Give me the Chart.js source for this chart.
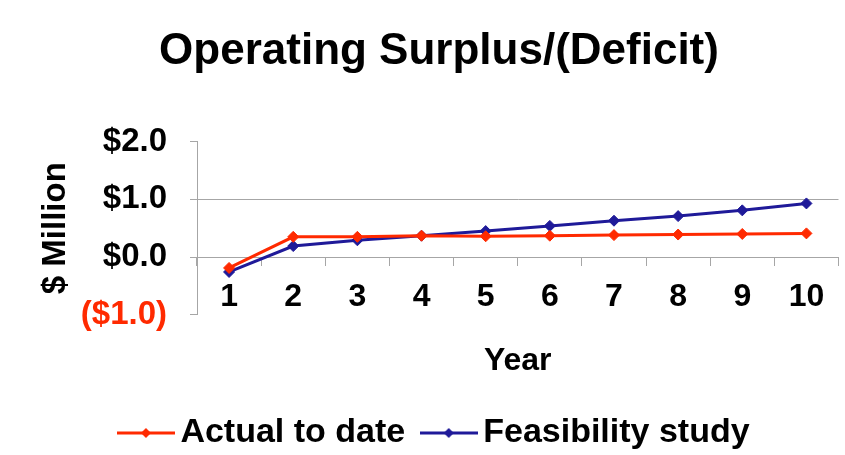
<!DOCTYPE html>
<html>
<head>
<meta charset="utf-8">
<script src="https://cdn.jsdelivr.net/npm/chart.js@4.4.1/dist/chart.umd.min.js"></script>
<style>
html, body { margin: 0; padding: 0; background: #fff; }
#wrap { width: 845px; height: 455px; }
</style>
</head>
<body>
<div id="wrap"><canvas id="surplusChart" width="845" height="455"></canvas></div>
<script>
// チャートのデータ
const years = ['1', '2', '3', '4', '5', '6', '7', '8', '9', '10'];
const actualToDate = [-0.19, 0.35, 0.35, 0.37, 0.36, 0.37, 0.38, 0.39, 0.40, 0.41];
const feasibilityStudy = [-0.26, 0.19, 0.29, 0.37, 0.45, 0.54, 0.63, 0.71, 0.81, 0.93];
const yTickValues = [-1, 0, 1, 2];
const yTickLabels = ['($1.0)', '$0.0', '$1.0', '$2.0'];

const RED = '#ff2a00';
const BLUE = '#1f1a99';
const GREY = '#a6a6a6';
const FONT = 'Liberation Sans, Arial, Helvetica, sans-serif';

Chart.defaults.font.family = FONT;
Chart.defaults.color = '#000';

// 凡例のマーカー（線＋ひし形）
function makeLegendMarker(color) {
    const c = document.createElement('canvas');
    c.width = 58;
    c.height = 14;
    const g = c.getContext('2d');
    g.strokeStyle = color;
    g.lineWidth = 3;
    g.beginPath();
    g.moveTo(0, 7);
    g.lineTo(58, 7);
    g.stroke();
    g.fillStyle = color;
    g.beginPath();
    g.moveTo(29, 2);
    g.lineTo(34, 7);
    g.lineTo(29, 12);
    g.lineTo(24, 7);
    g.closePath();
    g.fill();
    return c;
}
const markers = [makeLegendMarker(RED), makeLegendMarker(BLUE)];

const ctx = document.getElementById('surplusChart').getContext('2d');
const chart = new Chart(ctx, {
    type: 'line',
    data: {
        labels: years,
        datasets: [{
            label: 'Actual to date',
            data: actualToDate,
            borderColor: RED,
            backgroundColor: RED,
            borderWidth: 3,
            pointStyle: 'rectRot',
            pointRadius: 5.5,
            pointBorderWidth: 1,
            tension: 0
        }, {
            label: 'Feasibility study',
            data: feasibilityStudy,
            borderColor: BLUE,
            backgroundColor: BLUE,
            borderWidth: 3,
            pointStyle: 'rectRot',
            pointRadius: 5.5,
            pointBorderWidth: 1,
            tension: 0
        }]
    },
    options: {
        responsive: false,
        animation: false,
        layout: { padding: { left: 36, right: 3, top: 0, bottom: -5 } },
        plugins: {
            title: {
                display: true,
                text: 'Operating Surplus/(Deficit)',
                color: '#000',
                font: { size: 44, weight: 'bold' },
                padding: { top: 25, bottom: 64 }
            },
            legend: {
                position: 'bottom',
                labels: {
                    usePointStyle: true,
                    pointStyleWidth: 35,
                    boxHeight: 14,
                    padding: 26,
                    color: '#000',
                    font: { size: 34, weight: 'bold' },
                    generateLabels(chart) {
                        const items = Chart.defaults.plugins.legend.labels.generateLabels(chart);
                        items.forEach((item, i) => { item.pointStyle = markers[i]; });
                        return items;
                    }
                }
            },
            tooltip: { enabled: false }
        },
        scales: {
            x: {
                type: 'category',
                position: { y: 0 },
                offset: true,
                grid: {
                    offset: true,
                    drawOnChartArea: false,
                    tickLength: 8,
                    color: GREY
                },
                border: { display: true, color: GREY },
                ticks: {
                    color: '#000',
                    padding: 13,
                    maxRotation: 0,
                    font: { size: 32, weight: 'bold' }
                }
            },
            xYear: {
                type: 'category',
                position: 'bottom',
                labels: years,
                grid: { display: false, drawTicks: false },
                border: { display: false },
                ticks: { display: false },
                title: {
                    display: true,
                    text: 'Year',
                    color: '#000',
                    font: { size: 32, weight: 'bold' },
                    padding: { top: 27, bottom: 10 }
                }
            },
            y: {
                min: -1,
                max: 2,
                afterBuildTicks(scale) {
                    scale.ticks = yTickValues.map(v => ({ value: v }));
                },
                afterFit(scale) {
                    scale.width = 161;
                },
                grid: {
                    tickLength: 7,
                    tickColor: GREY,
                    color: c => (c.tick && (c.tick.value === 0 || c.tick.value === 1)) ? GREY : 'rgba(0,0,0,0)'
                },
                border: { display: true, color: GREY },
                ticks: {
                    padding: 23,
                    font: { size: 33, weight: 'bold' },
                    color: c => c.tick.value < 0 ? RED : '#000',
                    callback: v => yTickLabels[yTickValues.indexOf(v)]
                },
                title: {
                    display: true,
                    text: '$ Million',
                    color: '#000',
                    font: { size: 33, weight: 'bold' },
                    padding: { top: 0, bottom: 0 }
                }
            }
        }
    }
});
</script>
</body>
</html>
